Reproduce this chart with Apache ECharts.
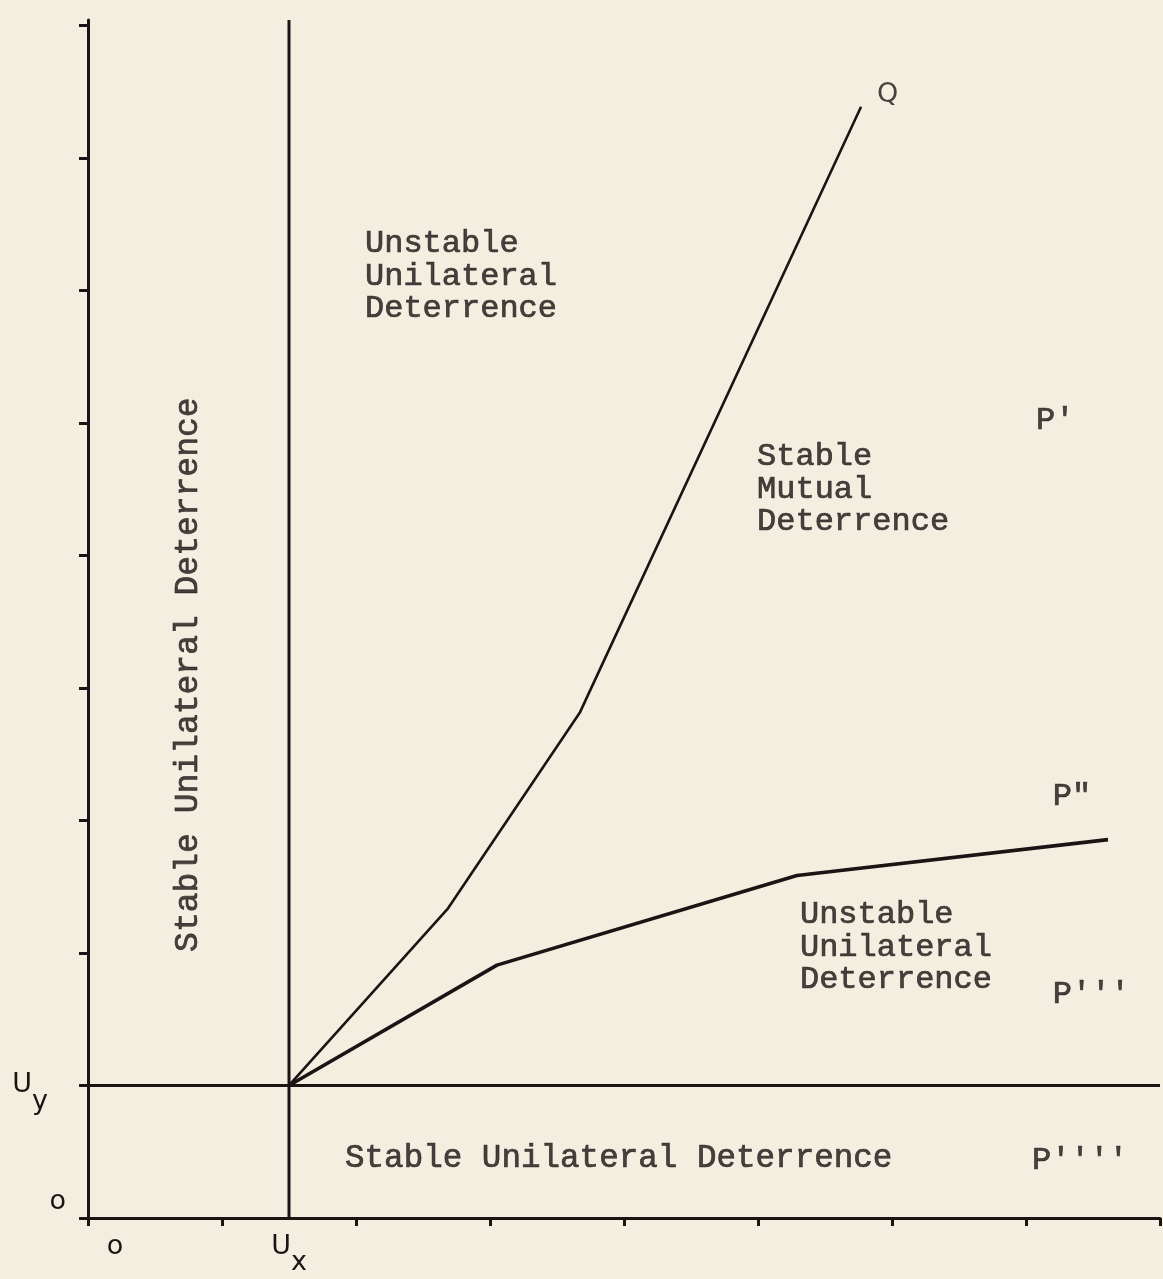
<!DOCTYPE html>
<html>
<head>
<meta charset="utf-8">
<script src="https://cdn.jsdelivr.net/npm/echarts@6/dist/echarts.min.js"></script>
<style>
html,body{margin:0;padding:0;background:#f2efe1;}
#chart{width:1163px;height:1279px;}
</style>
</head>
<body>
<div id="chart"></div>
<script>
// ---- data ----
var xTicks = [0, 1, 2, 3, 4, 5, 6, 7, 8];
var yTicks = [0, 1, 2, 3, 4, 5, 6, 7, 8, 9];
var xLabelValues = [0, 1.5];
var yLabelValues = [0, 1];
var Ux = 1.5;
var Uy = 1;
var uxLine = [[1.5, 0], [1.5, 9.04]];
var uyLine = [[0, 1], [8, 1]];
var curveQ = [[1.5, 1], [2.687, 2.337], [3.672, 3.817], [5.769, 8.385]];
var curveP2 = [[1.5, 1], [3.052, 1.908], [5.291, 2.585], [7.612, 2.855]];
var regionLabels = [
  [2.067, 7.107, 'Unstable\nUnilateral\nDeterrence'],
  [4.993, 5.50, 'Stable\nMutual\nDeterrence'],
  [5.313, 2.044, 'Unstable\nUnilateral\nDeterrence'],
  [7.075, 6.018, "P'"],
  [7.20, 3.178, 'P"'],
  [7.20, 1.69, "P'''"],
  [7.045, 0.436, "P''''"]
];
var bottomLabel = [[1.918, 0.451, 'Stable Unilateral Deterrence']];
var qLabel = [[5.888, 8.475, 'Q']];
var verticalLabel = [[0.746, 4.10, 'Stable Unilateral Deterrence']];

// ---- chart ----
var ink = '#1b1414';
var mono = '"Liberation Mono", "Courier New", monospace';
var sans = '"DejaVu Sans", sans-serif';
var chart = echarts.init(document.getElementById('chart'), null, {renderer: 'canvas'});

function textSeries(data, opts) {
  return {
    type: 'scatter',
    symbolSize: 0,
    silent: true,
    data: data.map(function (d) { return {value: [d[0], d[1]], name: d[2]}; }),
    label: Object.assign({
      show: true,
      formatter: function (p) { return p.name; },
      position: 'right',
      distance: 0,
      align: 'left',
      verticalAlign: 'middle',
      color: ink,
      textBorderColor: ink,
      textBorderWidth: 0.7,
      fontFamily: mono,
      fontSize: 32,
      lineHeight: 32.5
    }, opts || {})
  };
}

var option = {
  backgroundColor: '#f2efe1',
  animation: false,
  grid: {left: 88, right: 3, top: 20, bottom: 61, containLabel: false},
  xAxis: {
    type: 'value', min: 0, max: 8,
    axisLine: {show: true, lineStyle: {color: ink, width: 3}},
    axisTick: {show: true, customValues: xTicks, length: 8, inside: false, lineStyle: {color: ink, width: 3}},
    splitLine: {show: false},
    axisLabel: {
      show: true,
      customValues: xLabelValues,
      margin: 29,
      verticalAlign: 'middle',
      color: ink,
      fontFamily: sans,
      fontSize: 27,
      formatter: function (v) {
        if (v === 0) return '{o|o}';
        return '{u|U}{s|x}';
      },
      rich: {
        o: {fontFamily: sans, fontSize: 27, color: ink, lineHeight: 30, padding: [0, 0, 0, 54]},
        u: {fontFamily: sans, fontSize: 27, color: ink, lineHeight: 30},
        s: {fontFamily: sans, fontSize: 27, color: ink, lineHeight: 30, padding: [32, 0, 0, 0]}
      }
    }
  },
  yAxis: {
    type: 'value', min: 0, max: 9.04,
    axisLine: {show: true, lineStyle: {color: ink, width: 3}},
    axisTick: {show: true, customValues: yTicks, length: 9, inside: false, lineStyle: {color: ink, width: 3}},
    splitLine: {show: false},
    axisLabel: {
      show: true,
      customValues: yLabelValues,
      margin: 22,
      color: ink,
      fontFamily: sans,
      fontSize: 27,
      formatter: function (v) {
        if (v === 0) return '{o|o}';
        return '{u|U}{s|y}';
      },
      rich: {
        o: {fontFamily: sans, fontSize: 27, color: ink, lineHeight: 30, padding: [0, 0, 32, 0]},
        u: {fontFamily: sans, fontSize: 27, color: ink, lineHeight: 30},
        s: {fontFamily: sans, fontSize: 27, color: ink, lineHeight: 30, padding: [34, 18, 0, 0]}
      }
    }
  },
  series: [
    {type: 'line', data: uxLine, symbol: 'none', silent: true, lineStyle: {color: ink, width: 3}},
    {type: 'line', data: uyLine, symbol: 'none', silent: true, lineStyle: {color: ink, width: 3}},
    {type: 'line', data: curveQ, symbol: 'none', silent: true, lineStyle: {color: ink, width: 2.6}},
    {type: 'line', data: curveP2, symbol: 'none', silent: true, lineStyle: {color: ink, width: 3.6}},
    textSeries(regionLabels),
    textSeries(bottomLabel, {fontSize: 32.6}),
    textSeries(qLabel, {fontFamily: sans, fontSize: 27, textBorderWidth: 0}),
    textSeries(verticalLabel, {rotate: 90, position: 'inside', align: 'center', verticalAlign: 'middle', fontSize: 33})
  ]
};
chart.setOption(option);
</script>
</body>
</html>
